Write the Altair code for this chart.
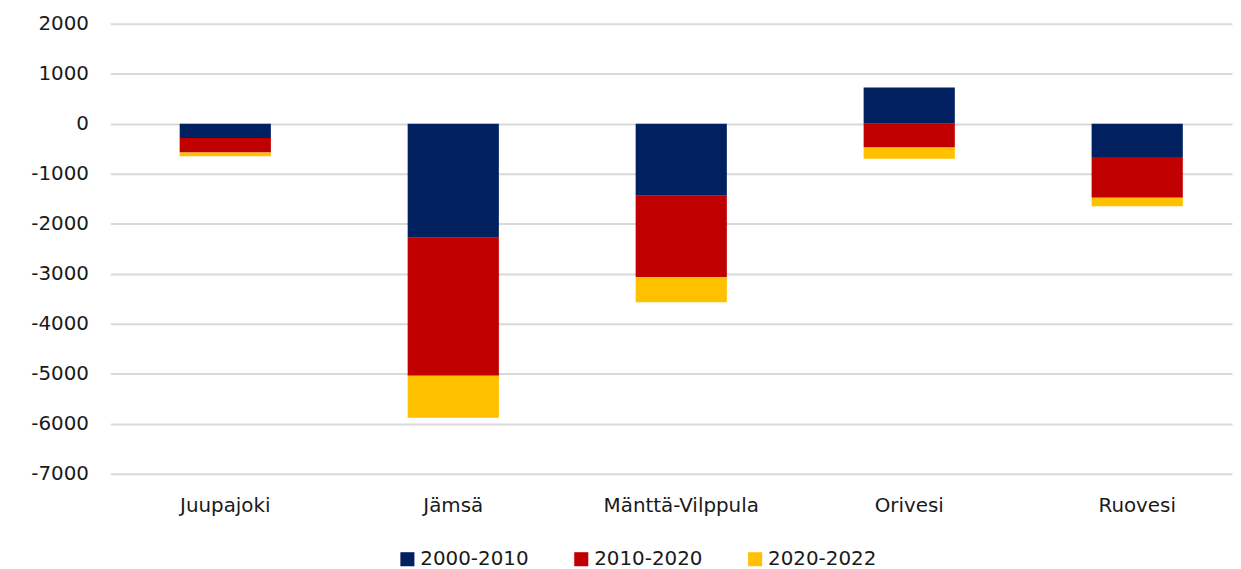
import altair as alt
import pandas as pd

municipalities = ["Juupajoki", "Jämsä", "Mänttä-Vilppula", "Orivesi", "Ruovesi"]
periods = ["2000-2010", "2010-2020", "2020-2022"]
v_2000_2010 = [-285, -2280, -1440, 725, -665]
v_2010_2020 = [-290, -2760, -1630, -475, -815]
v_2020_2022 = [-75, -840, -500, -225, -170]
colors = ["#002060", "#C00000", "#FFC000"]

rows = []
for series, vals in zip(periods, [v_2000_2010, v_2010_2020, v_2020_2022]):
    for m, v in zip(municipalities, vals):
        rows.append({"kunta": m, "jakso": series, "muutos": v, "ord": periods.index(series)})
df = pd.DataFrame(rows)

FONT = "DejaVu Sans"

chart = alt.Chart(df).mark_bar().encode(
    x=alt.X("kunta:N", sort=municipalities, title=None,
            scale=alt.Scale(paddingInner=0.6, paddingOuter=0.26, align=0.585),
            axis=alt.Axis(labelAngle=0, labelFontSize=20, labelColor="#1a1a1a",
                          domain=False, ticks=False, labelPadding=22, labelFont=FONT)),
    y=alt.Y("muutos:Q", title=None, stack="zero",
            scale=alt.Scale(domain=[-7000, 2000], nice=False),
            axis=alt.Axis(values=list(range(-7000, 2001, 1000)),
                          labelExpr="toString(datum.value)",
                          labelFontSize=20, labelColor="#1a1a1a", domain=False, ticks=False,
                          labelPadding=22, gridColor="#d9d9d9", gridWidth=2, labelFont=FONT)),
    color=alt.Color("jakso:N", sort=periods,
                    scale=alt.Scale(domain=periods, range=colors),
                    legend=alt.Legend(orient="none", legendX=289, legendY=529,
                                      direction="horizontal", title=None,
                                      symbolType="square", symbolSize=200, symbolStrokeWidth=0,
                                      labelFontSize=20, labelColor="#1a1a1a", labelFont=FONT,
                                      labelOffset=3, columnPadding=42)),
    order=alt.Order("ord:Q", sort="ascending"),
).properties(
    width=1129, height=453,
    autosize=alt.AutoSizeParams(type="none"),
    padding={"top": 14, "left": 103, "right": 1, "bottom": 94},
).configure_view(stroke=None)

chart.save("out.html", embed_options={"renderer": "svg", "actions": False})
